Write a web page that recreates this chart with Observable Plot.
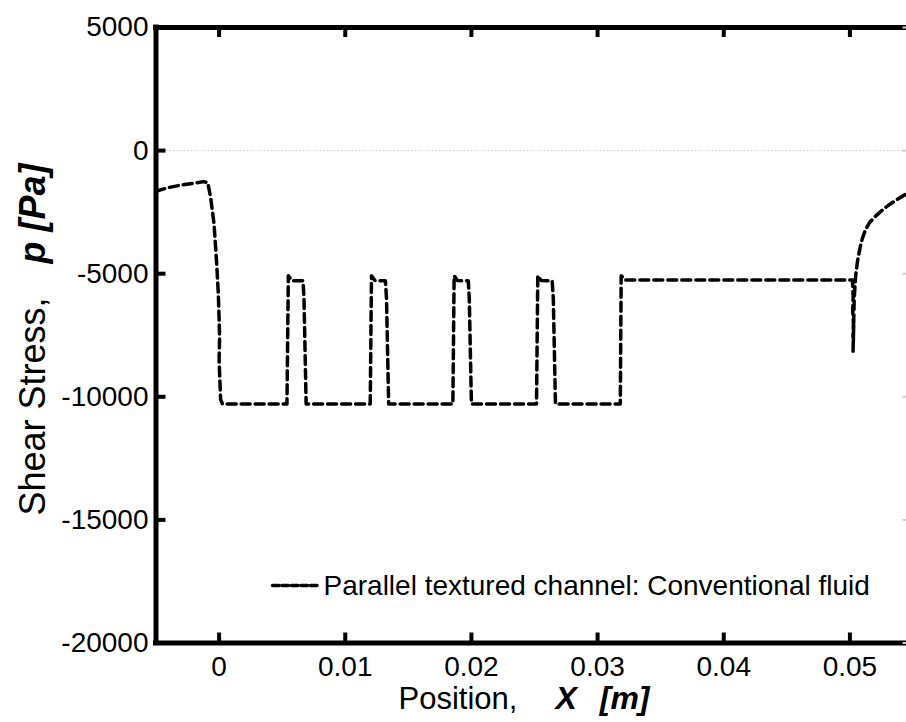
<!DOCTYPE html>
<html>
<head>
<meta charset="utf-8">
<script src="https://cdn.jsdelivr.net/npm/d3@7"></script>
<script src="https://cdn.jsdelivr.net/npm/@observablehq/plot@0.6"></script>
<style>
  html, body { margin: 0; padding: 0; background: #fff; overflow: hidden; }
  #chart svg { display: block; }
</style>
</head>
<body>
<div id="chart"></div>
<script>
// ---- data ----
const positions = [
  -0.0050, -0.0040, -0.0030, -0.0020, -0.00125, -0.0009, -0.00067, -0.0004, -0.00019, -0.00006,
  0.0000, 0.00004, 0.0000, 0.00006, 0.00012, 0.00026,
  0.00538, 0.00549, 0.00575, 0.00665, 0.00673, 0.00690,
  0.01198, 0.01208, 0.01235, 0.01318, 0.01327, 0.01344,
  0.01853, 0.01863, 0.01890, 0.01975, 0.01983, 0.02000,
  0.02516, 0.02526, 0.02553, 0.02640, 0.02649, 0.02666,
  0.03180, 0.03187, 0.03220,
  0.05020, 0.05026, 0.05022, 0.05028, 0.05024, 0.05030, 0.05025,
  0.05034, 0.05045, 0.05060, 0.05080, 0.05100, 0.05125, 0.05155, 0.05195, 0.05250, 0.05300, 0.05370, 0.05440, 0.05500
];
const shearStress = [
  -1650, -1500, -1400, -1330, -1260, -1300, -1900, -2980, -4600, -5820,
  -6800, -7600, -8500, -9300, -10100, -10290,
  -10290, -5080, -5280, -5290, -6000, -10290,
  -10290, -5080, -5280, -5290, -6000, -10290,
  -10290, -5080, -5280, -5290, -6000, -10290,
  -10290, -5080, -5280, -5290, -6000, -10290,
  -10290, -5080, -5260,
  -5260, -5900, -6500, -7000, -7600, -7100, -8150,
  -6000, -5100, -4500, -3950, -3550, -3200, -2930, -2700, -2450, -2240, -2000, -1780, -1650
];
const xTicks = [0, 0.01, 0.02, 0.03, 0.04, 0.05];
const xTickLabels = ["0", "0.01", "0.02", "0.03", "0.04", "0.05"];
const yTicks = [5000, 0, -5000, -10000, -15000, -20000];
const yTickLabels = ["5000", "0", "-5000", "-10000", "-15000", "-20000"];
const xDomain = [-0.005, 0.055];
const yDomain = [-20000, 5000];
const seriesLabel = "Parallel textured channel: Conventional fluid";
const xLabelPlain = "Position,";
const xLabelVar = "X";
const xLabelUnit = "[m]";
const yLabelPlain = "Shear Stress,";
const yLabelBold = "p [Pa]";

const data = positions.map((x, i) => ({x, y: shearStress[i]}));

// ---- styles / layout ----
const font = "'Liberation Sans', Arial, Helvetica, sans-serif";
const lineShape = {draw(ctx, l) { ctx.moveTo(0, 0); ctx.lineTo(0, -l); }};
const W = 906, H = 722;
const mL = 155.5, mT = 27, mR = -6.5, mB = 79.5;
const frameW = W - mR - mL;
const frameH = H - mT - mB;
const tickLen = 10;                      // px
const black = "#000";

const chart = Plot.plot({
  width: W,
  height: H,
  marginLeft: mL,
  marginRight: mR,
  marginTop: mT,
  marginBottom: mB,
  style: {fontFamily: font, background: "#fff", color: "#000"},
  x: {domain: xDomain, axis: null},
  y: {domain: yDomain, axis: null},
  marks: [
    // dotted zero reference line
    Plot.ruleY([0], {stroke: "#c8c8c8", strokeWidth: 1, strokeDasharray: "1.5,2"}),
    // data line
    Plot.line(data, {x: "x", y: "y", stroke: black, strokeWidth: 3.5, strokeDasharray: "9,5", strokeLinejoin: "round"}),
    // box (axis lines)
    Plot.ruleX([xDomain[0]], {stroke: black, strokeWidth: 5, strokeLinecap: "square"}),
    Plot.ruleY([yDomain[1], yDomain[0]], {stroke: black, strokeWidth: 5, strokeLinecap: "square"}),
    // inward ticks (vertical ticks on top and bottom, horizontal ticks on the left and right)
    Plot.tickX(xTicks, {x: d => d, insetBottom: frameH - tickLen, stroke: black, strokeWidth: 4}),
    Plot.tickX(xTicks, {x: d => d, insetTop: frameH - tickLen, stroke: black, strokeWidth: 4}),
    Plot.tickY(yTicks, {y: d => d, insetRight: frameW - tickLen, stroke: black, strokeWidth: 4}),
    Plot.tickY(yTicks, {y: d => d, insetLeft: frameW - tickLen, stroke: "#cfcfcf", strokeWidth: 2}),
    // tick labels
    Plot.text(yTicks, {y: d => d, frameAnchor: "left", text: (d, i) => yTickLabels[i], textAnchor: "end", dx: -7.5, fontSize: 28, fill: black}),
    Plot.text(xTicks, {x: d => d, frameAnchor: "bottom", text: (d, i) => xTickLabels[i], lineAnchor: "top", dy: 13, fontSize: 28, fill: black}),
    // axis labels
    Plot.text([xLabelPlain], {frameAnchor: "bottom-left", text: d => d, textAnchor: "start", lineAnchor: "bottom", dx: 398 - mL, dy: 708 - (H - mB), fontSize: 31, fill: black}),
    Plot.text([xLabelVar], {frameAnchor: "bottom-left", text: d => d, textAnchor: "start", lineAnchor: "bottom", dx: 555 - mL, dy: 708 - (H - mB), fontSize: 32, fontWeight: "bold", fontStyle: "italic", fill: black}),
    Plot.text([xLabelUnit], {frameAnchor: "bottom-left", text: d => d, textAnchor: "end", lineAnchor: "bottom", dx: 649 - mL, dy: 708 - (H - mB), fontSize: 32, fontWeight: "bold", fontStyle: "italic", fill: black}),
    Plot.text([yLabelPlain], {frameAnchor: "top-left", text: d => d, rotate: -90, textAnchor: "start", lineAnchor: "bottom", dx: 44 - mL, dy: 515 - mT, fontSize: 36, fill: black}),
    Plot.text([yLabelBold], {frameAnchor: "top-left", text: d => d, rotate: -90, textAnchor: "end", lineAnchor: "bottom", dx: 44 - mL, dy: 163 - mT, fontSize: 36, fontWeight: "bold", fontStyle: "italic", fill: black}),
    // legend
    Plot.vector([seriesLabel], {frameAnchor: "top-left", rotate: 90, length: 47, anchor: "start", shape: lineShape, dx: 272 - mL, dy: 585 - mT, stroke: black, strokeWidth: 3.5, strokeDasharray: "6.5,3"}),
    Plot.text([seriesLabel], {frameAnchor: "top-left", text: d => d, textAnchor: "start", lineAnchor: "bottom", dx: 323 - mL, dy: 594 - mT, fontSize: 28, fill: black})
  ]
});
document.getElementById("chart").appendChild(chart);
</script>
</body>
</html>
